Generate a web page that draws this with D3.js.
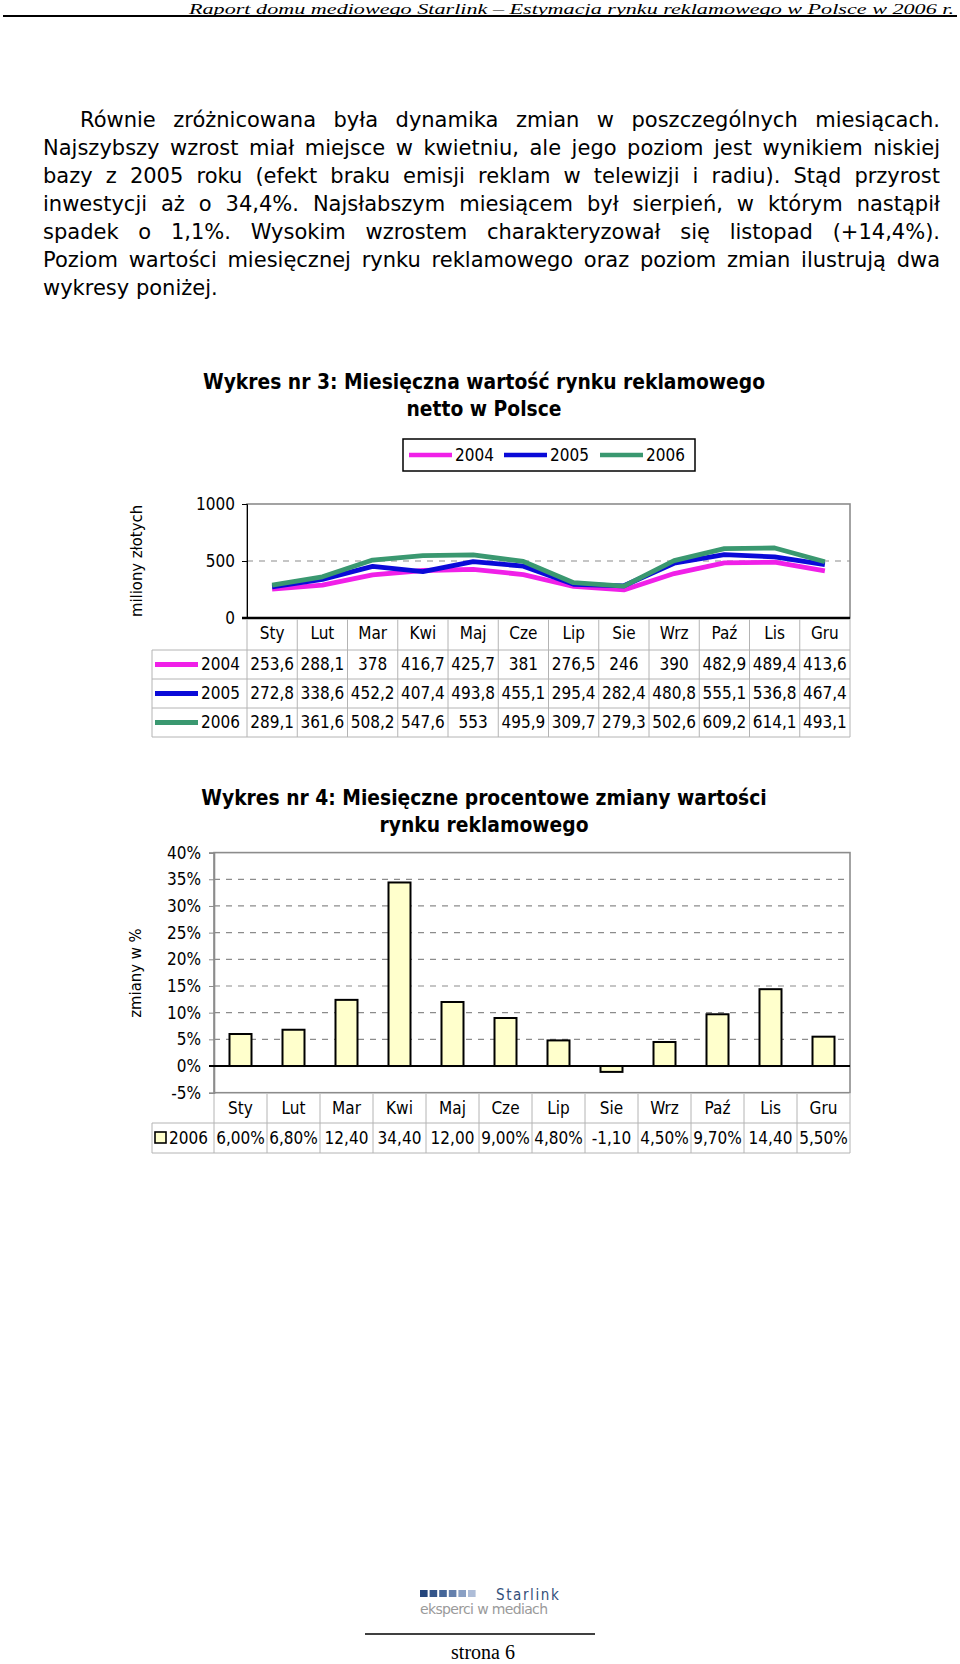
<!DOCTYPE html>
<html>
<head>
<meta charset="UTF-8">
<title>Wykres nr 3 i 4 - rynek reklamowy 2006</title>
<script src="https://d3js.org/d3.v7.min.js"></script>
<style>
    body { margin: 0; background: #fff; }
    text { font-family: "DejaVu Sans Condensed", "DejaVu Sans", sans-serif; fill: #000; }
    .serif { font-family: "Liberation Serif", "DejaVu Serif", serif; }
    .grid { stroke: #8c8c8c; stroke-width: 1.2; stroke-dasharray: 6,6; }
    .cell { stroke: #b4b4b4; stroke-width: 1; }
</style>
</head>
<body>
<svg id="page" width="960" height="1664"></svg>
<script>
// ---- dane ----
var months = ["Sty", "Lut", "Mar", "Kwi", "Maj", "Cze", "Lip", "Sie", "Wrz", "Paź", "Lis", "Gru"];
var years = ["2004", "2005", "2006"];
var val2004 = [253.6, 288.1, 378, 416.7, 425.7, 381, 276.5, 246, 390, 482.9, 489.4, 413.6];
var val2005 = [272.8, 338.6, 452.2, 407.4, 493.8, 455.1, 295.4, 282.4, 480.8, 555.1, 536.8, 467.4];
var val2006 = [289.1, 361.6, 508.2, 547.6, 553, 495.9, 309.7, 279.3, 502.6, 609.2, 614.1, 493.1];
var yearColors = ["#f020e8", "#0a0ad8", "#3a9870"];
var valueTicks = [0, 500, 1000];

var change2006 = [6.0, 6.8, 12.4, 34.4, 12.0, 9.0, 4.8, -1.1, 4.5, 9.7, 14.4, 5.5];
var changeLabels = ["6,00%", "6,80%", "12,40", "34,40", "12,00", "9,00%", "4,80%", "-1,10", "4,50%", "9,70%", "14,40", "5,50%"];
var changeTicks = [-5, 0, 5, 10, 15, 20, 25, 30, 35, 40];

var paragraph = [
    "Równie zróżnicowana była dynamika zmian w poszczególnych miesiącach.",
    "Najszybszy wzrost miał miejsce w kwietniu, ale jego poziom jest wynikiem niskiej",
    "bazy z 2005 roku (efekt braku emisji reklam w telewizji i radiu). Stąd przyrost",
    "inwestycji aż o 34,4%. Najsłabszym miesiącem był sierpień, w którym nastąpił",
    "spadek o 1,1%. Wysokim wzrostem charakteryzował się listopad (+14,4%).",
    "Poziom wartości miesięcznej rynku reklamowego oraz poziom zmian ilustrują dwa",
    "wykresy poniżej."
];

var series = [val2004, val2005, val2006];
var svg = d3.select("#page");

function comma(v) { return String(v).replace(".", ","); }

// ---- naglowek strony ----
svg.append("text").attr("class", "serif")
    .attr("x", 189).attr("y", 13.5)
    .attr("textLength", 765).attr("lengthAdjust", "spacingAndGlyphs")
    .style("font-style", "italic").style("font-size", "15px")
    .text("Raport domu mediowego Starlink – Estymacja rynku reklamowego w Polsce w 2006 r.");
svg.append("line").attr("x1", 3).attr("x2", 957).attr("y1", 16).attr("y2", 16)
    .attr("stroke", "#000").attr("stroke-width", 2);

// ---- akapit (wyjustowany) ----
var textLeft = 43, textRight = 940;
paragraph.forEach(function(line, i) {
    var x0 = i === 0 ? 80 : textLeft;
    var t = svg.append("text")
        .attr("x", x0).attr("y", 126.5 + i * 28.1)
        .style("font-family", "DejaVu Sans")
        .style("font-size", "21px")
        .text(line);
    if (i < paragraph.length - 1) {
        var gaps = line.split(" ").length - 1;
        var w = t.node().getComputedTextLength();
        t.style("word-spacing", ((textRight - x0 - w) / gaps) + "px");
    }
});

// ================= Wykres 3 =================
function title(lines, y0) {
    lines.forEach(function(l, i) {
        svg.append("text").attr("x", 484).attr("y", y0 + i * 26.5)
            .attr("text-anchor", "middle")
            .style("font-size", "20.8px").style("font-weight", "bold")
            .text(l);
    });
}
title(["Wykres nr 3: Miesięczna wartość rynku reklamowego", "netto w Polsce"], 389);

// legenda
svg.append("rect").attr("x", 403).attr("y", 439).attr("width", 292).attr("height", 32)
    .attr("fill", "none").attr("stroke", "#000").attr("stroke-width", 1.5);
var legendX = [409, 504, 600];
years.forEach(function(yr, i) {
    svg.append("line").attr("x1", legendX[i]).attr("x2", legendX[i] + 43)
        .attr("y1", 455).attr("y2", 455)
        .attr("stroke", yearColors[i]).attr("stroke-width", 4.5);
    svg.append("text").attr("x", legendX[i] + 46).attr("y", 455).attr("dy", "0.35em")
        .style("font-size", "17px").text(yr);
});

var x1 = d3.scaleBand().domain(months).range([247, 850]);
var y1 = d3.scaleLinear().domain([0, 1000]).range([618, 504]);

var g1 = svg.append("g");
g1.append("rect").attr("x", 247).attr("y", y1(1000)).attr("width", 603).attr("height", y1(0) - y1(1000))
    .attr("fill", "none").attr("stroke", "#8c8c8c").attr("stroke-width", 1.6);
g1.append("line").attr("class", "grid")
    .attr("x1", 247).attr("x2", 850).attr("y1", y1(500)).attr("y2", y1(500));

var ax1 = g1.append("g").attr("transform", "translate(247,0)")
    .call(d3.axisLeft(y1).tickValues(valueTicks).tickSize(5).tickPadding(7).tickFormat(d3.format("d")));
ax1.select(".domain").attr("stroke", "#000");
ax1.selectAll("text").style("font-size", "17px").style("font-family", "DejaVu Sans Condensed");

g1.append("line").attr("x1", 242).attr("x2", 850).attr("y1", y1(0)).attr("y2", y1(0))
    .attr("stroke", "#000").attr("stroke-width", 2.6);

var line1 = d3.line()
    .x(function(d, i) { return x1(months[i]) + x1.bandwidth() / 2; })
    .y(function(d) { return y1(d); });
series.forEach(function(s, i) {
    g1.append("path").datum(s).attr("d", line1)
        .attr("fill", "none").attr("stroke", yearColors[i])
        .attr("stroke-width", 4.8).attr("stroke-linejoin", "round");
});

svg.append("text").attr("transform", "translate(136,561) rotate(-90)")
    .attr("text-anchor", "middle").attr("dy", "0.35em")
    .style("font-size", "16.5px").text("miliony złotych");

// tabela danych pod wykresem 3
var rowTop1 = [650, 679, 708];
var rowH1 = 29;
var t1 = svg.append("g");
months.forEach(function(m) {
    t1.append("text").attr("x", x1(m) + x1.bandwidth() / 2).attr("y", 633.5).attr("dy", "0.35em")
        .attr("text-anchor", "middle").style("font-size", "17px").text(m);
});
months.concat(["_end"]).forEach(function(m, i) {
    var xx = 247 + i * x1.step();
    t1.append("line").attr("class", "cell").attr("x1", xx).attr("x2", xx).attr("y1", 619).attr("y2", 737);
});
[650, 679, 708, 737].forEach(function(yy) {
    t1.append("line").attr("class", "cell").attr("x1", 152).attr("x2", 850).attr("y1", yy).attr("y2", yy);
});
t1.append("line").attr("class", "cell").attr("x1", 152).attr("x2", 152).attr("y1", 650).attr("y2", 737);
series.forEach(function(s, r) {
    var cy = rowTop1[r] + rowH1 / 2;
    t1.append("line").attr("x1", 155).attr("x2", 198).attr("y1", cy).attr("y2", cy)
        .attr("stroke", yearColors[r]).attr("stroke-width", 4.8);
    t1.append("text").attr("x", 201).attr("y", cy).attr("dy", "0.35em")
        .style("font-size", "17px").text(years[r]);
    s.forEach(function(v, i) {
        t1.append("text").attr("x", x1(months[i]) + x1.bandwidth() / 2).attr("y", cy).attr("dy", "0.35em")
            .attr("text-anchor", "middle").style("font-size", "17px").text(comma(v));
    });
});

// ================= Wykres 4 =================
title(["Wykres nr 4: Miesięczne procentowe zmiany wartości", "rynku reklamowego"], 805);

var x2 = d3.scaleBand().domain(months).range([214, 850]);
var xb = d3.scaleBand().domain(months).range([214, 850]).paddingInner(0.585).paddingOuter(0.2925);
var y2 = d3.scaleLinear().domain([-5, 40]).range([1092.7, 852.6]);

var g2 = svg.append("g");
changeTicks.filter(function(d) { return d > 0 && d < 40; }).forEach(function(d) {
    g2.append("line").attr("class", "grid").attr("x1", 214).attr("x2", 850).attr("y1", y2(d)).attr("y2", y2(d));
});
g2.append("rect").attr("x", 214).attr("y", y2(40)).attr("width", 636).attr("height", y2(-5) - y2(40))
    .attr("fill", "none").attr("stroke", "#8c8c8c").attr("stroke-width", 1.6);
var ax2 = g2.append("g").attr("transform", "translate(214,0)")
    .call(d3.axisLeft(y2).tickValues(changeTicks).tickSize(5).tickPadding(8).tickFormat(function(d) { return d + "%"; }));
ax2.select(".domain").attr("stroke", "#8c8c8c").attr("stroke-width", 1.6);
ax2.selectAll("line").attr("stroke", "#8c8c8c");
ax2.selectAll("text").style("font-size", "17px").style("font-family", "DejaVu Sans Condensed");

g2.selectAll(".bar").data(change2006).enter().append("rect")
    .attr("class", "bar")
    .attr("x", function(d, i) { return xb(months[i]); })
    .attr("width", xb.bandwidth())
    .attr("y", function(d) { return y2(Math.max(0, d)); })
    .attr("height", function(d) { return Math.abs(y2(d) - y2(0)); })
    .attr("fill", "#ffffcc").attr("stroke", "#000").attr("stroke-width", 2);

g2.append("line").attr("x1", 209).attr("x2", 850).attr("y1", y2(0)).attr("y2", y2(0))
    .attr("stroke", "#000").attr("stroke-width", 2);

svg.append("text").attr("transform", "translate(135,973) rotate(-90)")
    .attr("text-anchor", "middle").attr("dy", "0.35em")
    .style("font-size", "16.5px").text("zmiany w %");

// tabela pod wykresem 4
var t2 = svg.append("g");
months.forEach(function(m) {
    t2.append("text").attr("x", x2(m) + x2.bandwidth() / 2).attr("y", 1108).attr("dy", "0.35em")
        .attr("text-anchor", "middle").style("font-size", "17px").text(m);
});
months.concat(["_end"]).forEach(function(m, i) {
    var xx = 214 + i * x2.step();
    t2.append("line").attr("class", "cell").attr("x1", xx).attr("x2", xx).attr("y1", 1094).attr("y2", 1153);
});
[1123, 1153].forEach(function(yy) {
    t2.append("line").attr("class", "cell").attr("x1", 152).attr("x2", 850).attr("y1", yy).attr("y2", yy);
});
t2.append("line").attr("class", "cell").attr("x1", 152).attr("x2", 152).attr("y1", 1123).attr("y2", 1153);
t2.append("rect").attr("x", 155).attr("y", 1132).attr("width", 11).attr("height", 11)
    .attr("fill", "#ffffcc").attr("stroke", "#000").attr("stroke-width", 1.6);
t2.append("text").attr("x", 169).attr("y", 1138).attr("dy", "0.35em").style("font-size", "17px").text("2006");
changeLabels.forEach(function(l, i) {
    t2.append("text").attr("x", x2(months[i]) + x2.bandwidth() / 2).attr("y", 1138).attr("dy", "0.35em")
        .attr("text-anchor", "middle").style("font-size", "17px").text(l);
});

// ---- stopka ----
var logoBlues = ["#24467c", "#34558a", "#456699", "#6580ad", "#8aa0c4", "#aebdd8"];
logoBlues.forEach(function(c, i) {
    svg.append("rect").attr("x", 420 + i * 9.6).attr("y", 1590).attr("width", 7.6).attr("height", 7)
        .attr("fill", c);
});
svg.append("text").attr("x", 496).attr("y", 1600).style("font-size", "15px")
    .style("letter-spacing", "1.6px").style("fill", "#34507a").text("Starlink");
svg.append("text").attr("x", 420).attr("y", 1614).attr("textLength", 128)
    .style("font-size", "14px").style("fill", "#9a9a9a").style("font-family", "DejaVu Sans").text("eksperci w mediach");
svg.append("line").attr("x1", 365).attr("x2", 595).attr("y1", 1634).attr("y2", 1634)
    .attr("stroke", "#000").attr("stroke-width", 1.5);
svg.append("text").attr("class", "serif").attr("x", 483).attr("y", 1659)
    .attr("text-anchor", "middle").style("font-size", "20px").text("strona 6");
</script>
</body>
</html>
